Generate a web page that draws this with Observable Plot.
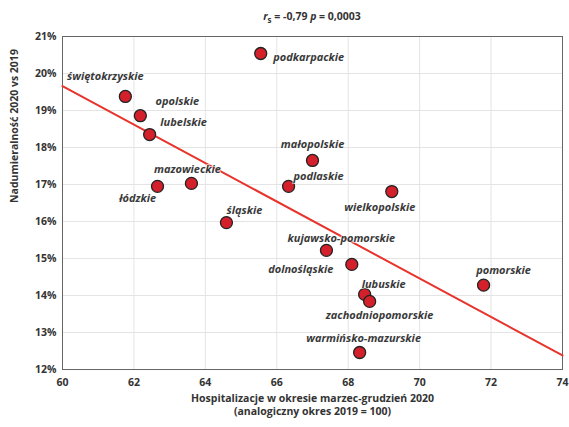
<!DOCTYPE html>
<html><head><meta charset="utf-8">
<script src="https://cdn.jsdelivr.net/npm/d3@7"></script>
<script src="https://cdn.jsdelivr.net/npm/@observablehq/plot@0.6"></script>
<style>
body{margin:0;background:#fff;font-family:"Open Sans",sans-serif;}
#title{height:26px;line-height:32px;font-size:10.5px;font-weight:700;color:#333;text-align:center;padding-left:55px;box-sizing:border-box;width:569px;}
sub{font-size:8px;}
</style></head><body>
<div id="title"><i>r</i><sub>s</sub> = -0,79 <i>p</i> = 0,0003</div>
<div id="chart"></div>
<script>
const regions = ["podkarpackie","świętokrzyskie","opolskie","lubelskie","łódzkie","mazowieckie","śląskie","małopolskie","podlaskie","wielkopolskie","kujawsko-pomorskie","dolnośląskie","lubuskie","zachodniopomorskie","pomorskie","warmińsko-mazurskie"];
const hosp = [65.55,61.76,62.18,62.44,62.66,63.61,64.59,67.0,66.33,69.22,67.39,68.1,68.46,68.6,71.79,68.32];
const excess = [20.54,19.38,18.86,18.35,16.95,17.03,15.97,17.65,16.95,16.81,15.22,14.84,14.03,13.84,14.28,12.46];
const labelDx = [48,-20,37,34,-20,-4,18,0,30,-12,15,-51,19,10,20,4];
const labelDy = [4,-20,-14,-12,12,-14,-12,-16,-10,16,-12,5,-10,14,-15,-14];
const trendX = [60,74];
const trendY = [19.66,12.38];
const xTicks = [60,62,64,66,68,70,72,74];
const yTicks = [12,13,14,15,16,17,18,19,20,21];

const pts = regions.map((r,i)=>({r,x:hosp[i],y:excess[i],dx:labelDx[i],dy:labelDy[i]}));
const trend = trendX.map((x,i)=>({x,y:trendY[i]}));
const ink = "#333";
const chart = Plot.plot({
  width:569, height:401,
  marginLeft:62, marginRight:7, marginTop:10, marginBottom:58,
  style:{fontFamily:"Open Sans, sans-serif", background:"#fff"},
  x:{domain:[60,74], ticks:xTicks},
  y:{domain:[12,21], ticks:yTicks},
  marks:[
    Plot.gridX(xTicks,{stroke:"#e4e4e4", strokeOpacity:1}),
    Plot.gridY(yTicks,{stroke:"#e4e4e4", strokeOpacity:1}),
    Plot.frame({stroke:"#666"}),
    Plot.axisX(xTicks,{tickSize:0, tickPadding:9, fontSize:10.5, fontWeight:700, fill:ink, label:null, tickFormat:d=>d}),
    Plot.axisY(yTicks,{tickSize:0, tickPadding:6, fontSize:10.5, fontWeight:700, fill:ink, label:null, tickFormat:d=>d+"%"}),
    Plot.text(["Hospitalizacje w okresie marzec-grudzień 2020"],{frameAnchor:"bottom", dy:32, fontSize:10.5, fontWeight:700, fill:ink}),
    Plot.text(["(analogiczny okres 2019 = 100)"],{frameAnchor:"bottom", dy:45, fontSize:10.5, fontWeight:700, fill:ink}),
    Plot.text(["Nadumieralność 2020 vs 2019"],{frameAnchor:"left", dx:-48, rotate:-90, fontSize:10.5, fontWeight:700, fill:ink}),
    Plot.line(trend,{x:"x", y:"y", stroke:"#e8342c", strokeWidth:2}),
    Plot.dot(pts,{x:"x", y:"y", r:6, fill:"#d4202b", stroke:"#222", strokeWidth:1.3}),
    ...pts.map(p=>Plot.text([p],{x:"x", y:"y", text:"r", dx:p.dx, dy:p.dy, fontSize:11, fontWeight:700, fontStyle:"italic", fill:"#3a3a3a", stroke:"white", strokeWidth:2, strokeOpacity:0.6}))
  ]
});
document.getElementById("chart").append(chart);
</script></body></html>
